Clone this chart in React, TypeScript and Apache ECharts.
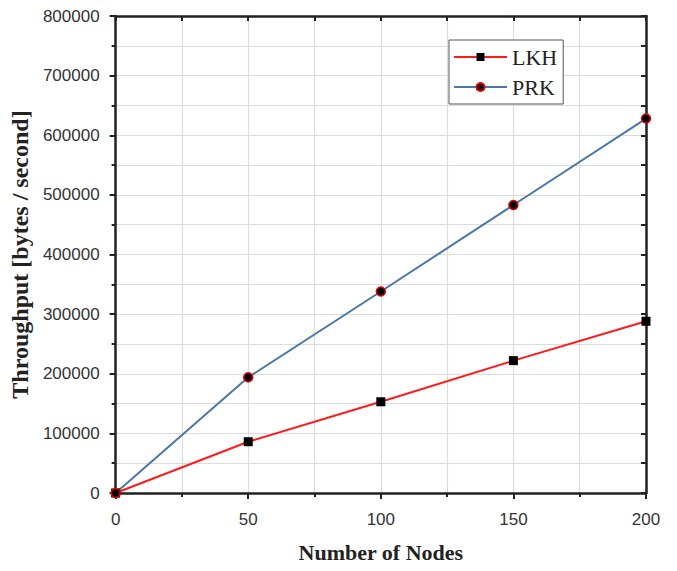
import React, { useEffect, useRef } from "react";
import * as echarts from "echarts";

const nodes = [0, 50, 100, 150, 200];
const lkh = [0, 86000, 153000, 222000, 288000];
const prk = [0, 194000, 338000, 483000, 628000];
const seriesNames = ["LKH", "PRK"];

export default function App() {
  const ref = useRef<HTMLDivElement>(null);
  useEffect(() => {
    if (!ref.current) return;
    const chart = echarts.init(ref.current, null, { renderer: "svg" });
    const axisLine = { show: true, onZero: false, lineStyle: { color: "#222", width: 2.5 } };
    const gridLine = { show: true, showMinLine: false, showMaxLine: false, lineStyle: { color: "#dcdcdc", width: 1.2 } };
    const tick = { show: true, length: 6, lineStyle: { color: "#222", width: 2 } };
    const minor = { show: true, splitNumber: 2, length: 4, lineStyle: { color: "#222", width: 2 } };
    const tickIn = { show: true, inside: true, length: 5, lineStyle: { color: "#222", width: 2 } };
    const minorIn = { show: true, splitNumber: 2, length: 5, lineStyle: { color: "#222", width: 2 } };
    chart.setOption({
      animation: false,
      backgroundColor: "#fff",
      grid: { left: 115, right: 31, top: 16, bottom: 78, containLabel: false },
      legend: {
        orient: "vertical",
        left: 449,
        top: 40,
        z: 20,
        data: seriesNames,
        itemWidth: 53,
        itemHeight: 10,
        itemGap: 8,
        padding: [6, 6, 6, 4],
        borderColor: "#555",
        borderWidth: 1,
        backgroundColor: "#fff",
        textStyle: { fontFamily: "Liberation Serif", fontSize: 22, color: "#222" },
      },
      xAxis: [
        {
          type: "value",
          min: 0,
          max: 200,
          interval: 50,
          position: "bottom",
          z: 5,
          name: "Number of Nodes",
          nameLocation: "middle",
          nameGap: 48,
          nameTextStyle: { fontFamily: "Liberation Serif", fontWeight: "bold", fontSize: 22, color: "#222" },
          axisLine,
          axisTick: tick,
          minorTick: minor,
          axisLabel: { margin: 18, fontFamily: "Liberation Sans", fontSize: 17, color: "#333" },
          splitLine: gridLine,
          minorSplitLine: gridLine,
        },
        {
          type: "value",
          min: 0,
          max: 200,
          interval: 50,
          position: "top",
          z: 5,
          axisLine,
          axisTick: tickIn,
          minorTick: minorIn,
          axisLabel: { show: false },
          splitLine: { show: false },
        },
      ],
      yAxis: [
        {
          type: "value",
          min: 0,
          max: 800000,
          interval: 100000,
          position: "left",
          z: 5,
          name: "Throughput [bytes / second]",
          nameLocation: "middle",
          nameGap: 78,
          nameTextStyle: { fontFamily: "Liberation Serif", fontWeight: "bold", fontSize: 24, color: "#222" },
          axisLine,
          axisTick: tick,
          minorTick: minor,
          axisLabel: {
            margin: 16,
            fontFamily: "Liberation Sans",
            fontSize: 17,
            color: "#333",
            formatter: (v: number) => String(v),
          },
          splitLine: gridLine,
          minorSplitLine: gridLine,
        },
        {
          type: "value",
          min: 0,
          max: 800000,
          interval: 100000,
          position: "right",
          z: 5,
          axisLine,
          axisTick: tickIn,
          minorTick: minorIn,
          axisLabel: { show: false },
          splitLine: { show: false },
        },
      ],
      series: [
        {
          name: seriesNames[0],
          type: "line",
          data: nodes.map((n, i) => [n, lkh[i]]),
          lineStyle: { color: "#ff1a1a", width: 2 },
          itemStyle: { color: "#000", borderColor: "#000", borderWidth: 0 },
          symbol: "rect",
          symbolSize: 9,
          z: 10,
        },
        {
          name: seriesNames[1],
          type: "line",
          data: nodes.map((n, i) => [n, prk[i]]),
          lineStyle: { color: "#4878a8", width: 2 },
          itemStyle: { color: "#000", borderColor: "#e00000", borderWidth: 1.5 },
          symbol: "circle",
          symbolSize: 9,
          z: 10,
        },
      ],
    });
    return () => chart.dispose();
  }, []);
  return <div ref={ref} style={{ width: 677, height: 571, position: "absolute", left: 0, top: 0 }} />;
}
